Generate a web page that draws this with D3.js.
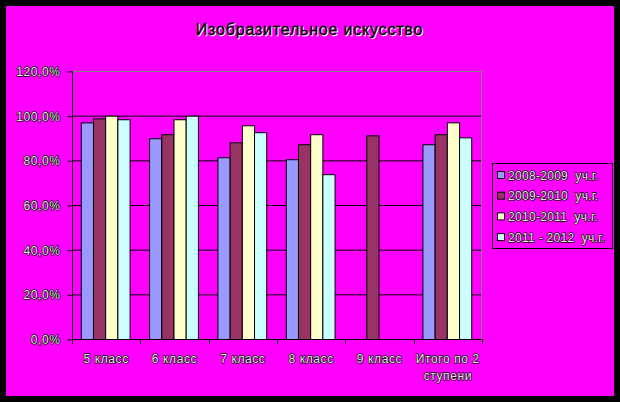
<!DOCTYPE html>
<html><head><meta charset="utf-8">
<script src="https://cdn.jsdelivr.net/npm/d3@7"></script>
<style>
html,body{margin:0;padding:0;background:#000;}
svg text{font-family:"Liberation Sans",Arial,sans-serif;}
</style></head>
<body>
<svg id="c" width="620" height="402"></svg>
<script>
const title = "Изобразительное искусство";
const categories = [["5 класс"],["6 класс"],["7 класс"],["8 класс"],["9 класс"],["Итого по 2","ступени"]];
const seriesNames = ["2008-2009  уч.г.","2009-2010  уч.г.","2010-2011  уч.г.","2011 - 2012  уч.г."];
const s2008 = [97.0, 89.9, 81.4, 80.5, null, 87.2];
const s2009 = [98.8, 91.7, 88.1, 87.2, 91.2, 91.7];
const s2010 = [100.0, 98.4, 95.7, 91.7, null, 97.0];
const s2011 = [98.4, 100.0, 92.6, 73.8, null, 90.3];
const yTicks = [0,20,40,60,80,100,120];
const colors = ["#9999FF","#993366","#FFFFCC","#CCFFFF"];
const series = [s2008,s2009,s2010,s2011];

const svg = d3.select("#c");
svg.append("rect").attr("x",6).attr("y",6).attr("width",608).attr("height",390).attr("fill","#FF00FF");

const L=72, R=482, T=71, B=339;
const x0 = d3.scaleBand().domain(d3.range(categories.length)).range([L,R]).paddingInner(0.286).paddingOuter(0.143);
const x1 = d3.scaleBand().domain(d3.range(series.length)).range([0,x0.bandwidth()]);
const y = d3.scaleLinear().domain([0,120]).range([B,T]);

// gridlines
svg.append("g").selectAll("line").data(yTicks.filter(t=>t>0&&t<120)).join("line")
  .attr("x1",L).attr("x2",R).attr("y1",d=>y(d)+0.5).attr("y2",d=>y(d)+0.5)
  .attr("stroke","#000").attr("stroke-width",1);
svg.append("line").attr("x1",L).attr("x2",R).attr("y1",T+0.5).attr("y2",T+0.5).attr("stroke","#808080");
svg.append("line").attr("x1",R-0.5).attr("x2",R-0.5).attr("y1",T).attr("y2",B).attr("stroke","#808080");

// bars
const bars=[];
series.forEach((s,si)=>s.forEach((v,ci)=>{ if(v!=null) bars.push({si,ci,v}); }));
svg.append("g").selectAll("rect").data(bars).join("rect")
  .attr("x",d=>x0(d.ci)+x1(d.si)-0.5)
  .attr("y",d=>y(d.v)+0.5)
  .attr("width",x1.bandwidth())
  .attr("height",d=>B-y(d.v))
  .attr("fill",d=>colors[d.si]).attr("stroke","#000").attr("stroke-width",1);

function outlined(sel, fill, stroke, sw){
  sel.attr("fill",fill).attr("stroke",stroke).attr("stroke-width",sw).attr("paint-order","stroke").attr("stroke-linejoin","round");
}
const FS=12, LS=0.6;

// y axis
const yAxis = d3.axisLeft(y).tickValues(yTicks).tickSize(5).tickFormat(d=>d3.format(".1f")(d).replace(".",",")+"%");
const yg = svg.append("g").attr("transform",`translate(${L+0.5},0.5)`).call(yAxis);
yg.select(".domain").attr("stroke","#000").attr("d",`M0,${T}V${B}`);
yg.selectAll(".tick line").attr("stroke","#000");
yg.selectAll(".tick text").attr("x",-12).attr("font-size",FS).attr("letter-spacing",LS).attr("font-family","Liberation Sans, Arial").call(outlined,"#e8e8e8","#000",1.3);

// x axis
const xAxisLine = svg.append("g");
xAxisLine.append("line").attr("x1",L).attr("x2",R).attr("y1",B+0.5).attr("y2",B+0.5).attr("stroke","#000");
const xEdges = d3.range(categories.length+1).map(i=> i<categories.length ? x0(i)-x0.step()*x0.paddingInner()/2 : R);
xAxisLine.selectAll("line.t").data(xEdges).join("line").attr("class","t")
  .attr("x1",d=>Math.round(d)+0.5).attr("x2",d=>Math.round(d)+0.5).attr("y1",B).attr("y2",B+5).attr("stroke","#000");
const xl = svg.append("g").selectAll("text").data(categories).join("text")
  .attr("x",(d,i)=>x0(i)+x0.bandwidth()/2).attr("y",363)
  .attr("text-anchor","middle").attr("font-size",FS).attr("letter-spacing",LS).call(outlined,"#e8e8e8","#000",1.3);
xl.each(function(d){
  const t=d3.select(this);
  d.forEach((line,j)=>t.append("tspan").attr("x",t.attr("x")).attr("dy",j?17:0).text(line));
});

// title: white shadow behind black text
[["#fff",1,1],["#000",0,0]].forEach(([c,dx,dy])=>{
  svg.append("text").attr("x",309.5+dx).attr("y",35+dy).attr("text-anchor","middle").attr("font-size",16).attr("letter-spacing",0.8)
    .attr("fill",c).attr("stroke",c).attr("stroke-width",0.4).text(title);
});

// legend
const lg = svg.append("g");
lg.append("rect").attr("x",492.5).attr("y",163.5).attr("width",120).attr("height",85).attr("fill","none").attr("stroke","#000");
const li = lg.selectAll("g.i").data(seriesNames).join("g").attr("class","i")
  .attr("transform",(d,i)=>`translate(0,${175+i*20.7})`);
li.append("rect").attr("x",497.5).attr("y",-3.5).attr("width",7).attr("height",7).attr("fill",(d,i)=>colors[i]).attr("stroke","#000");
li.append("text").attr("x",508).attr("y",4.5).attr("font-size",FS).attr("letter-spacing",0.3).attr("xml:space","preserve").style("white-space","pre").text(d=>d).call(outlined,"#e8e8e8","#000",1.3);
</script>
</body></html>
